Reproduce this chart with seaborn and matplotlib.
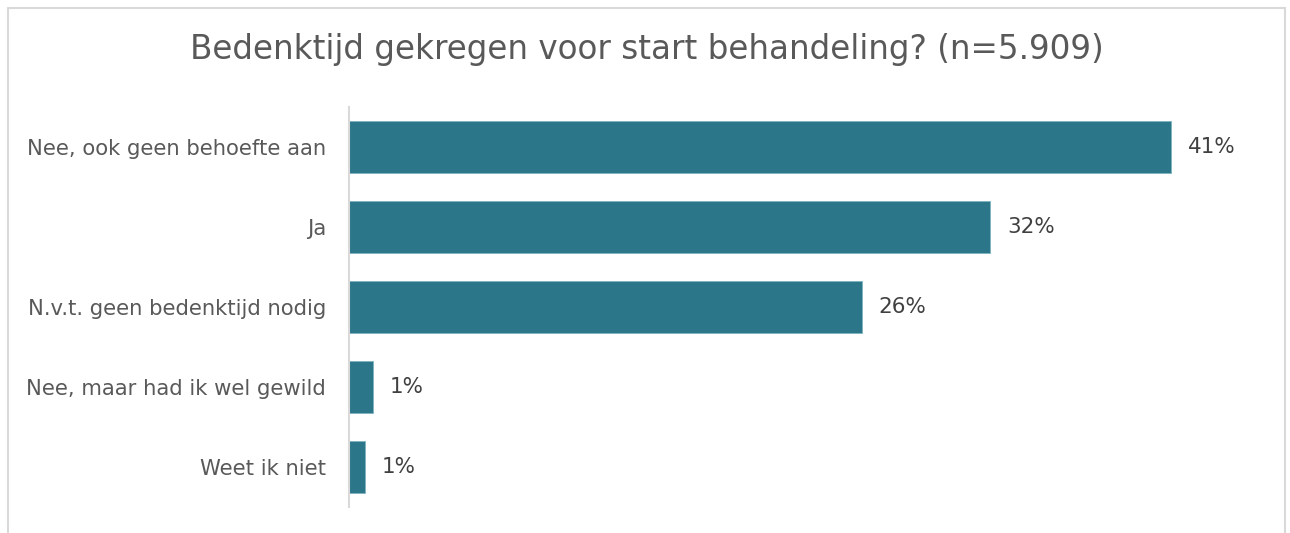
import matplotlib
matplotlib.use("Agg")
import matplotlib.pyplot as plt
import seaborn as sns
import pandas as pd
from matplotlib.patches import Rectangle

categories = ["Nee, ook geen behoefte aan", "Ja", "N.v.t. geen bedenktijd nodig",
              "Nee, maar had ik wel gewild", "Weet ik niet"]
values = [41.0, 32.0, 25.6, 1.2, 0.8]
labels = ["41%", "32%", "26%", "1%", "1%"]
title = "Bedenktijd gekregen voor start behandeling? (n=5.909)"

df = pd.DataFrame({"cat": categories, "val": values})

sns.set_theme(style="white")
plt.rcParams['font.family'] = ['DejaVu Sans']

fig = plt.figure(figsize=(12.9, 5.33), dpi=100)
W, H = 1290, 533
ax = fig.add_axes([349 / W, 1 - 507 / H, 902 / W, 400 / H])

sns.barplot(data=df, x="val", y="cat", color="#2B7689", saturation=1,
            width=0.65, ax=ax, edgecolor="#7fb3c0", linewidth=0.6)
ax.set_xlim(0, 45)
ax.set_ylim(4.5, -0.5)
ax.set_xlabel("")
ax.set_ylabel("")
ax.set_xticks([])
for s in ["top", "right", "bottom"]:
    ax.spines[s].set_visible(False)
ax.spines["left"].set_color("#d9d9d9")
ax.spines["left"].set_linewidth(1.5)
ax.tick_params(axis="y", length=0, pad=16.5, labelsize=15.2, labelcolor="#595959")

for i, (v, lab) in enumerate(zip(values, labels)):
    ax.annotate(lab, xy=(v, i), xytext=(12, 0), textcoords="offset points",
                va="center", ha="left", fontsize=15.5, color="#404040")

fig.text(647 / W, 1 - 50 / H, title, ha="center", va="center",
         fontsize=23.5, color="#595959")

fig.patches.append(Rectangle((8 / W, -0.05), (1285 - 8) / W, 1.05 - 8 / H,
                             transform=fig.transFigure, fill=False,
                             edgecolor="#d9d9d9", linewidth=1.5))

fig.savefig("out.png", dpi=100)
